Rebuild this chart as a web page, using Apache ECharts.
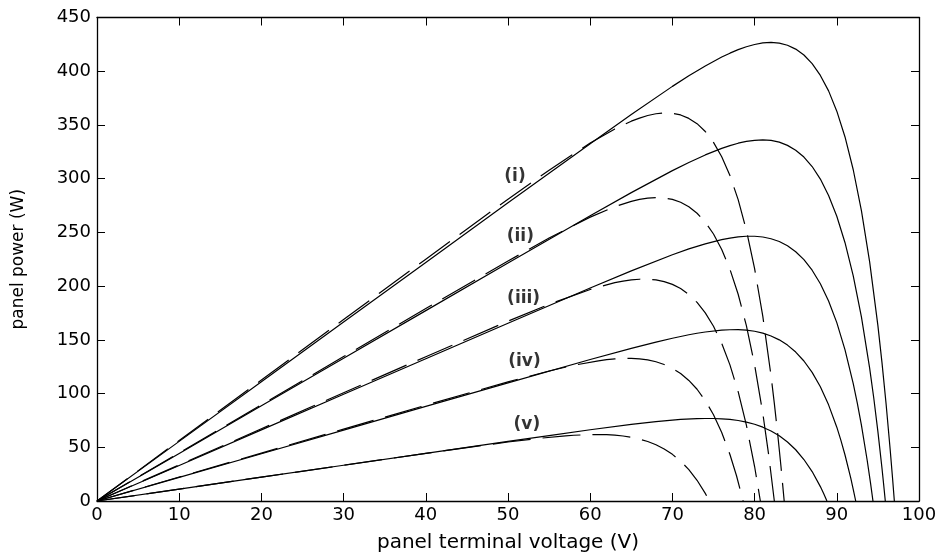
<!DOCTYPE html>
<html>
<head>
<meta charset="utf-8">
<script src="https://cdn.jsdelivr.net/npm/echarts@6/dist/echarts.min.js"></script>
<style>html,body{margin:0;padding:0;background:#fff}#c{width:943px;height:558px}</style>
</head>
<body>
<div id="c"></div>
<script>
// x ticks / y ticks
const xTicks = [0,10,20,30,40,50,60,70,80,90,100];
const yTicks = [0,50,100,150,200,250,300,350,400,450];

// solid curves (i)..(v)
const solidV1 = [0,10,20,30,40,50,60,65,70,72,74,76,77,78,79,80,81,82,83,84,85,86,87,88,89,90,91,92,93,94,95,95.5,96,96.5,96.8,97];
const solidP1 = [0,55.5,111,166.5,222,277.5,332.6,359.8,385.9,395.7,404.9,413.2,416.8,420.1,422.8,424.9,426.3,426.8,426.2,424.2,420.6,415.1,407.1,396.1,381.7,362.8,338.8,308.3,270.1,222.3,163.2,128.5,90.1,47.3,19.6,0];
const solidV2 = [0,10,20,30,40,50,60,65,70,72,74,76,77,78,79,80,81,82,83,84,85,86,87,88,89,90,91,92,93,94,94.5,95,95.5,95.7,95.9];
const solidP2 = [0,44.3,88.6,132.9,177.2,221.5,265.5,287.0,307.5,315.1,322.1,328.2,330.8,333.0,334.7,335.7,336.1,335.6,334.0,331.0,326.5,320.1,311.3,299.6,284.4,265.0,240.4,209.6,171.2,123.5,95.6,64.6,30.2,15.4,0];
const solidV3 = [0,10,20,30,40,50,60,65,70,72,74,76,77,78,79,80,81,82,83,84,85,86,87,88,89,90,91,92,92.5,93,93.7,94.1,94.4];
const solidP3 = [0,33.1,66.2,99.3,132.4,165.5,198.3,214.2,229.2,234.6,239.3,243.2,244.7,245.8,246.4,246.4,245.7,244.1,241.5,237.5,232.0,224.6,214.8,202.2,186.2,166.0,140.7,109.3,90.8,70.3,37.7,16.8,0];
const solidV4 = [0,10,20,30,40,50,60,65,68,70,72,73,74,76,77,78,79,80,81,82,83,84,85,86,87,88,89,90,90.5,91,91.7,92.0,92.3];
const solidP4 = [0,22,44,66,88,110.0,131.7,142.1,147.9,151.5,154.7,156.1,157.3,159.0,159.4,159.5,159.0,158.0,156.2,153.6,150.0,145.1,138.6,130.3,119.7,106.3,89.5,68.7,56.4,42.8,21.2,10.9,0];
const solidV5 = [0,10,20,30,40,50,55,60,65,68,71,73,74,75,76,77,78,79,80,81,82,83,84,85,86,87,88,88.4,88.8];
const solidP5 = [0,11.1,22.2,33.3,44.4,55.5,60.9,66.3,71.3,73.9,75.9,76.7,76.8,76.8,76.5,75.9,74.9,73.4,71.4,68.7,65.2,60.7,54.9,47.7,38.6,27.4,13.4,7.0,0];

// dashed curves (i)..(v)
const dashV1 = [0,10,20,30,40,50,55,60,63,65,66,67,68,69,70,71,72,73,74,75,76,77,78,79,80,81,82,82.4,82.8,83.2,83.6];
const dashP1 = [0,56.3,112.6,168.9,225.1,280.9,307.9,333.2,346.3,353.5,356.4,358.8,360.4,361.2,360.9,359.3,356.1,351.2,343.9,333.8,320.4,302.9,280.5,252.0,216.3,171.8,116.5,90.9,63.1,32.8,0];
const dashV2 = [0,10,20,30,40,50,55,60,63,65,66,67,68,69,70,71,72,73,74,75,76,77,78,79,80,81,81.7,82.4];
const dashP2 = [0,44.8,89.6,134.4,179.1,223.4,244.7,264.2,273.9,278.9,280.7,281.9,282.4,282.1,280.7,278.1,273.9,267.8,259.5,248.5,234.1,215.7,192.4,163.2,126.7,81.5,43.7,0];
const dashV3 = [0,10,20,30,40,50,55,60,63,64,65,66,67,68,69,70,71,72,73,74,75,76,77,78,79,80,80.7];
const dashP3 = [0,33.6,67.2,100.8,134.3,167.4,183.1,196.9,203.2,204.7,205.8,206.4,206.5,205.8,204.2,201.6,197.7,192.2,184.8,175.1,162.6,146.7,126.7,101.7,70.6,32.1,0];
const dashV4 = [0,10,20,30,40,50,55,58,61,62,63,64,65,66,67,68,69,70,71,72,73,74,75,76,77,77.8,78.6];
const dashP4 = [0,22.3,44.6,66.9,89.1,110.9,121.0,126.3,130.5,131.5,132.2,132.7,132.7,132.3,131.3,129.6,127.0,123.4,118.6,112.2,104.0,93.5,80.3,63.8,43.3,23.5,0];
const dashV5 = [0,10,20,30,40,45,50,54,57,58,60,61,62,63,64,65,66,67,68,69,70,71,72,73,74,74.5];
const dashP5 = [0,11.1,22.2,33.3,44.3,49.7,54.9,58.5,60.6,61.2,61.8,61.9,61.7,61.3,60.5,59.3,57.6,55.4,52.3,48.4,43.4,37.1,29.2,19.3,7.1,0];

// curve annotations
const labelText = ['(i)','(ii)','(iii)','(iv)','(v)'];
const labelV = [50.85,51.5,51.9,52.0,52.3];
const labelP = [302.2,246.5,188.7,129.9,70.9];

const zip = (a,b) => a.map((v,i)=>[v,b[i]]);
const solids = [[solidV1,solidP1],[solidV2,solidP2],[solidV3,solidP3],[solidV4,solidP4],[solidV5,solidP5]];
const dashes = [[dashV1,dashP1],[dashV2,dashP2],[dashV3,dashP3],[dashV4,dashP4],[dashV5,dashP5]];

const series = [];
solids.forEach((c,i)=>series.push({
  type:'line', name:'solid'+i, data:zip(c[0],c[1]), showSymbol:false, symbol:'none',
  smooth:false, lineStyle:{color:'#000',width:1.2}, silent:true
}));
dashes.forEach((c,i)=>series.push({
  type:'line', name:'dash'+i, data:zip(c[0],c[1]), showSymbol:false, symbol:'none',
  smooth:false, lineStyle:{color:'#000',width:1.2,type:[38,12]}, silent:true
}));
series.push({
  type:'scatter', symbolSize:0, silent:true,
  data: labelText.map((t,i)=>({value:[labelV[i],labelP[i]], name:t})),
  label:{show:true, position:'inside', formatter:p=>p.name, color:'#000',
    fontFamily:'DejaVu Sans', fontWeight:'bold', fontSize:17}
});

const axisFont = {fontFamily:'DejaVu Sans', fontSize:18, color:'#000'};
const chart = echarts.init(document.getElementById('c'), null, {renderer:'canvas'});
chart.setOption({
  animation:false,
  backgroundColor:'#fff',
  grid:{left:97, right:24, top:17.5, bottom:55.7, containLabel:false},
  xAxis:[{
    type:'value', min:0, max:100, interval:10, position:'bottom',
    name:'panel terminal voltage (V)', nameLocation:'middle', nameGap:32,
    nameTextStyle:{fontFamily:'DejaVu Sans', fontSize:20, color:'#000'},
    axisLine:{show:true, onZero:false, lineStyle:{color:'#000',width:1.3}},
    axisTick:{show:true, inside:true, length:8, lineStyle:{color:'#000'}},
    axisLabel:Object.assign({margin:5}, axisFont),
    splitLine:{show:false}
  },{
    type:'value', min:0, max:100, interval:10, position:'top',
    axisLine:{show:true, onZero:false, lineStyle:{color:'#000',width:1.3}},
    axisTick:{show:true, inside:true, length:8, lineStyle:{color:'#000'}},
    axisLabel:{show:false}, splitLine:{show:false}
  }],
  yAxis:[{
    type:'value', min:0, max:450, interval:50, position:'left',
    name:'panel power (W)', nameLocation:'middle', nameGap:70, nameRotate:90,
    nameTextStyle:{fontFamily:'DejaVu Sans', fontSize:17, color:'#000'},
    axisLine:{show:true, onZero:false, lineStyle:{color:'#000',width:1.3}},
    axisTick:{show:true, inside:true, length:8, lineStyle:{color:'#000'}},
    axisLabel:Object.assign({margin:6}, axisFont),
    splitLine:{show:false}
  },{
    type:'value', min:0, max:450, interval:50, position:'right',
    axisLine:{show:true, onZero:false, lineStyle:{color:'#000',width:1.3}},
    axisTick:{show:true, inside:true, length:8, lineStyle:{color:'#000'}},
    axisLabel:{show:false}, splitLine:{show:false}
  }],
  series: series
});
</script>
</body>
</html>
